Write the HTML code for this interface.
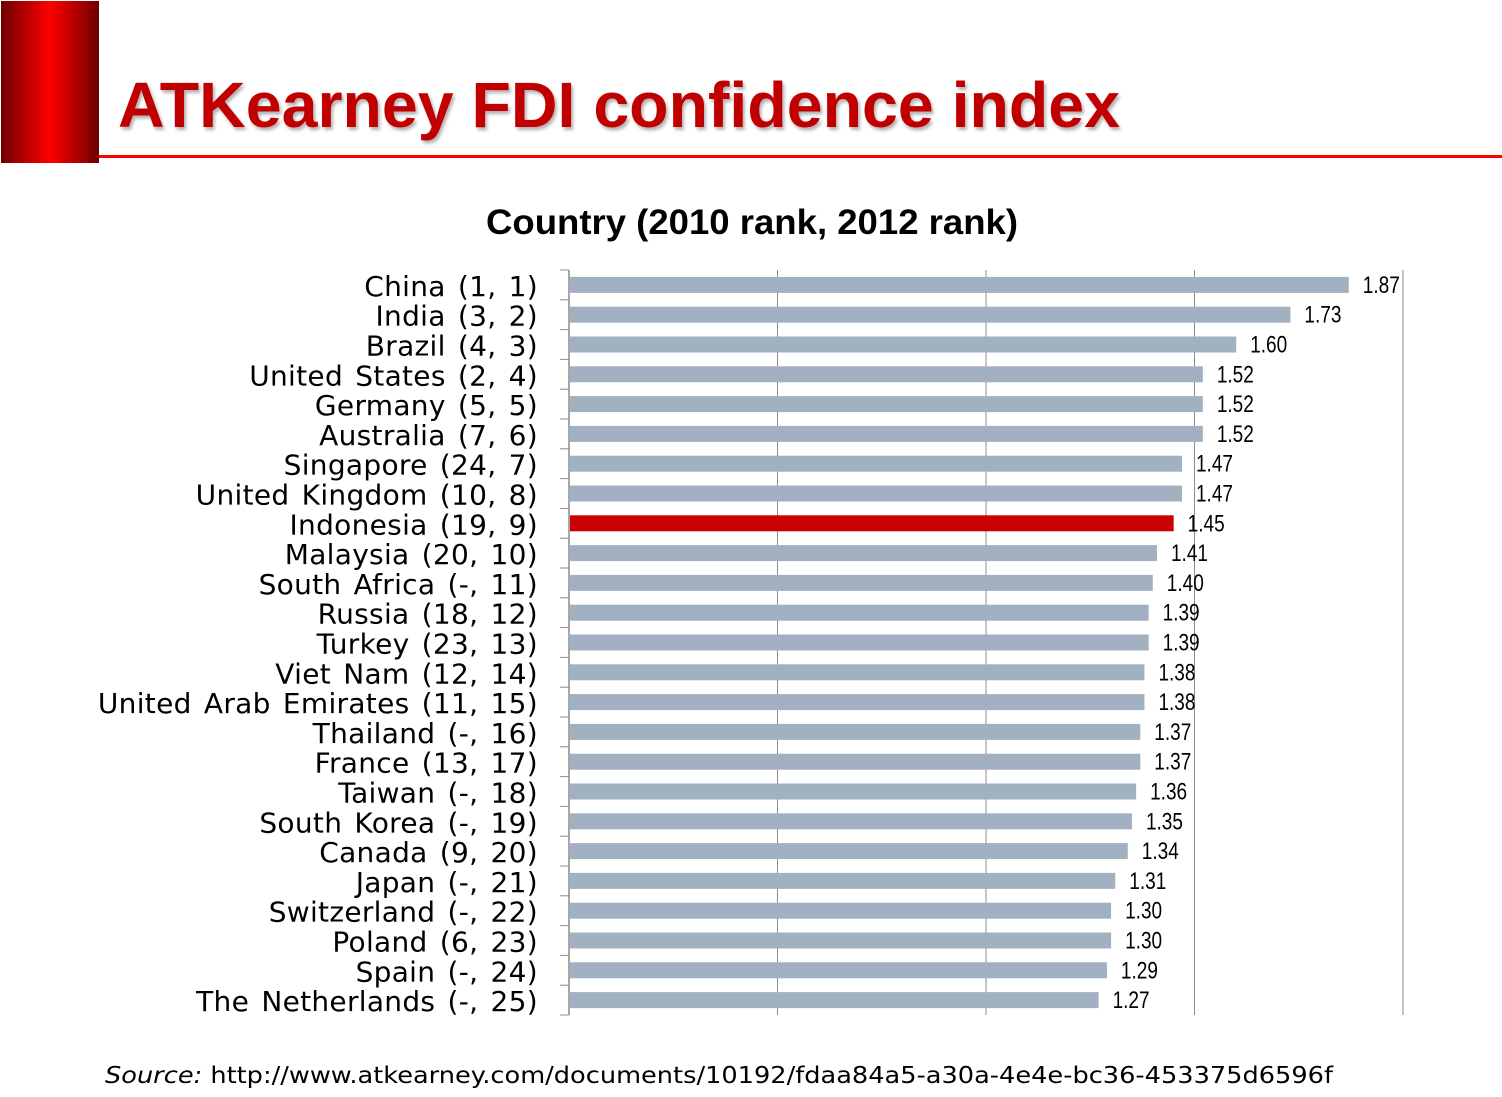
<!DOCTYPE html>
<html><head><meta charset="utf-8"><style>
html,body{margin:0;padding:0;background:#fff;width:1502px;height:1097px;overflow:hidden}
svg{display:block}
</style></head><body>
<svg width="1502" height="1097" viewBox="0 0 1502 1097" xmlns="http://www.w3.org/2000/svg">
<defs>
<linearGradient id="rg" x1="0" x2="1" y1="0" y2="0">
<stop offset="0" stop-color="#6e0000"/><stop offset="0.5" stop-color="#ff0000"/><stop offset="1" stop-color="#6e0000"/>
</linearGradient>
<filter id="sh"><feDropShadow dx="2" dy="3" stdDeviation="1.5" flood-color="#000" flood-opacity="0.3"/></filter>
</defs>
<rect x="1" y="1" width="98" height="162" fill="url(#rg)"/>
<rect x="99" y="155" width="1403" height="3" fill="#ff0000"/>
<text x="118" y="127" font-family="Liberation Sans, sans-serif" font-weight="bold" font-size="64" fill="#c00000" filter="url(#sh)" textLength="1002" lengthAdjust="spacingAndGlyphs">ATKearney FDI confidence index</text>
<text x="752" y="234" text-anchor="middle" font-family="Liberation Sans, sans-serif" font-weight="bold" font-size="35" fill="#000" textLength="532" lengthAdjust="spacingAndGlyphs">Country (2010 rank, 2012 rank)</text>
<g id="chart"></g>
<text x="105" y="1083" font-family="DejaVu Sans, sans-serif" font-size="23" fill="#000" textLength="1228" lengthAdjust="spacingAndGlyphs"><tspan font-style="italic">Source:</tspan> http://www.atkearney.com/documents/10192/fdaa84a5-a30a-4e4e-bc36-453375d6596f</text>
</svg>
<script>
const categories = ["China (1, 1)","India (3, 2)","Brazil (4, 3)","United States (2, 4)","Germany (5, 5)","Australia (7, 6)","Singapore (24, 7)","United Kingdom (10, 8)","Indonesia (19, 9)","Malaysia (20, 10)","South Africa (-, 11)","Russia (18, 12)","Turkey (23, 13)","Viet Nam (12, 14)","United Arab Emirates (11, 15)","Thailand (-, 16)","France (13, 17)","Taiwan (-, 18)","South Korea (-, 19)","Canada (9, 20)","Japan (-, 21)","Switzerland (-, 22)","Poland (6, 23)","Spain (-, 24)","The Netherlands (-, 25)"];
const values = [1.87,1.73,1.60,1.52,1.52,1.52,1.47,1.47,1.45,1.41,1.40,1.39,1.39,1.38,1.38,1.37,1.37,1.36,1.35,1.34,1.31,1.30,1.30,1.29,1.27];
const highlight = ["Indonesia (19, 9)"];
const xTicks = [0,0.5,1,1.5,2];

const NS="http://www.w3.org/2000/svg";
const g=document.getElementById('chart');
const x0=569, x1=1403, yTop=270, yBot=1015, xMax=2;
const xs=v=>x0+(v/xMax)*(x1-x0);
const band=(yBot-yTop)/categories.length;
const ys=i=>yTop+i*band;
function mk(tag,attrs){const e=document.createElementNS(NS,tag);for(const k in attrs)e.setAttribute(k,attrs[k]);g.appendChild(e);return e;}
xTicks.forEach((t,i)=>{ if(t===0) return;
  const l=mk('line',{x1:xs(t),x2:xs(t),y1:yTop,y2:yBot,stroke:'#8c8c8c','stroke-width':1});
  
  
});
categories.forEach((c,i)=>{
  const yc=ys(i)+band/2;
  const b=mk('rect',{x:x0+1,y:yc-8,width:xs(values[i])-x0-1,height:16,fill:highlight.includes(c)?'#cc0000':'#a2b1c1'});
  
  
  const v=mk('text',{x:xs(values[i])+14,y:yc+8,'font-family':'Liberation Sans Narrow, Liberation Sans, sans-serif','font-size':24,fill:'#000',textLength:37,lengthAdjust:'spacingAndGlyphs'});
  v.textContent=values[i].toFixed(2);
  
  
  const t=mk('text',{x:538,y:yc+11,'text-anchor':'end','font-family':'DejaVu Sans, sans-serif','font-size':28,'letter-spacing':'0.3','word-spacing':'3',fill:'#000'});
  t.textContent=c;
  
  
});
for(let i=0;i<=categories.length;i++){
  const tk=mk('line',{x1:560,x2:x0,y1:ys(i),y2:ys(i),stroke:'#8c8c8c','stroke-width':1});
  
  
}
const ax=mk('line',{x1:x0,x2:x0,y1:yTop,y2:yBot,stroke:'#8c8c8c','stroke-width':1.5});


</script>
</body></html>
